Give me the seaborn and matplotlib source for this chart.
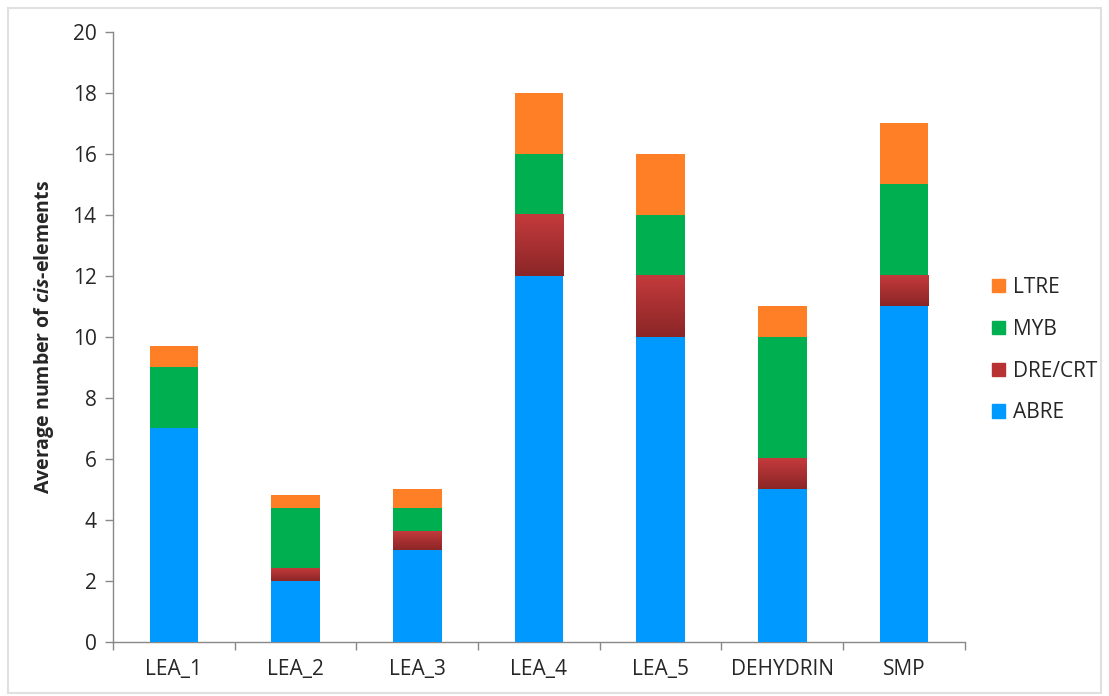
import numpy as np
import pandas as pd
import matplotlib.pyplot as plt
import seaborn as sns
from matplotlib.patches import Patch, Rectangle
from matplotlib.colors import LinearSegmentedColormap

# values
genes = ['LEA_1', 'LEA_2', 'LEA_3', 'LEA_4', 'LEA_5', 'DEHYDRIN', 'SMP']
abre = [7, 2, 3, 12, 10, 5, 11]
dre_crt = [0, 0.4, 0.6, 2, 2, 1, 1]
myb = [2, 2, 0.8, 2, 2, 4, 3]
ltre = [0.7, 0.4, 0.6, 2, 2, 1, 2]

sns.set_style('white')
plt.rcParams['font.family'] = ['Open Sans', 'DejaVu Sans']
plt.rcParams['mathtext.fontset'] = 'custom'
plt.rcParams['mathtext.rm'] = 'Open Sans'
plt.rcParams['mathtext.bf'] = 'Open Sans:bold'
plt.rcParams['mathtext.bfit'] = 'Open Sans:italic:bold'

df = pd.DataFrame({'gene': genes, 'ABRE': abre, 'DRE/CRT': dre_crt,
                   'MYB': myb, 'LTRE': ltre})
df['c1'] = df['ABRE']
df['c2'] = df['c1'] + df['DRE/CRT']
df['c3'] = df['c2'] + df['MYB']
df['c4'] = df['c3'] + df['LTRE']

colors = {'ABRE': '#0099ff', 'DRE/CRT': '#b83234', 'MYB': '#00b050', 'LTRE': '#ff7f27'}

fig = plt.figure(figsize=(11.09, 6.96), dpi=100)
ax = fig.add_axes([0.102, 0.0776, 0.768, 0.877])

# stacked bars: draw cumulative totals, tallest first
sns.barplot(data=df, x='gene', y='c4', color=colors['LTRE'], width=0.4,
            saturation=1, linewidth=0, zorder=1, ax=ax)
sns.barplot(data=df, x='gene', y='c3', color=colors['MYB'], width=0.4,
            saturation=1, linewidth=0, zorder=2, ax=ax)
sns.barplot(data=df, x='gene', y='c2', color=colors['DRE/CRT'], width=0.4,
            saturation=1, linewidth=0, zorder=3, ax=ax)
red_bars = list(ax.containers[-1])
sns.barplot(data=df, x='gene', y='c1', color=colors['ABRE'], width=0.4,
            saturation=1, linewidth=0, zorder=5, ax=ax)

# gradient on the DRE/CRT segments
cmap = LinearSegmentedColormap.from_list('red', ['#8b2627', '#c43a3c'])
grad = np.linspace(0, 1, 100).reshape(-1, 1)
for bar, lo, h in zip(red_bars, df['c1'], df['DRE/CRT']):
    if h <= 0:
        continue
    x0 = bar.get_x()
    ax.imshow(grad, cmap=cmap, origin='lower', aspect='auto',
              extent=(x0, x0 + bar.get_width(), lo, lo + h), zorder=4)

ax.set_xlim(-0.5, 6.5)
ax.set_ylim(0, 20)
ax.set_yticks(range(0, 21, 2))
ax.set_xlabel('')
ax.set_ylabel('Average number of $\\bfit{cis}$-elements', fontsize=14,
              fontweight='bold', labelpad=12)

ax.set_xticks(range(len(genes)))
ax.set_xticklabels(genes)
ax.set_xticks(np.arange(-0.5, 7, 1), minor=True)
ax.tick_params(axis='x', which='major', length=0, labelsize=15, pad=12)
ax.tick_params(axis='x', which='minor', length=6, color='#888888', width=1,
               direction='out', bottom=True)
ax.tick_params(axis='y', length=6, color='#888888', width=1, direction='out',
               left=True, labelsize=15, pad=6)

for s in ['top', 'right']:
    ax.spines[s].set_visible(False)
for s in ['left', 'bottom']:
    ax.spines[s].set_color('#888888')
    ax.spines[s].set_linewidth(1)

handles = [Patch(color=colors[k], label=k) for k in ['LTRE', 'MYB', 'DRE/CRT', 'ABRE']]
fig.legend(handles=handles, loc='center left', bbox_to_anchor=(0.878, 0.497),
           frameon=False, fontsize=15, handlelength=0.6, handleheight=0.6,
           handletextpad=0.4, labelspacing=1.0)

fig.patches.append(Rectangle((0.007, 0.004), 0.986, 0.985, transform=fig.transFigure,
                             fill=False, edgecolor='#e0e0e0', linewidth=1.5))

fig.savefig('out.png', dpi=100)
